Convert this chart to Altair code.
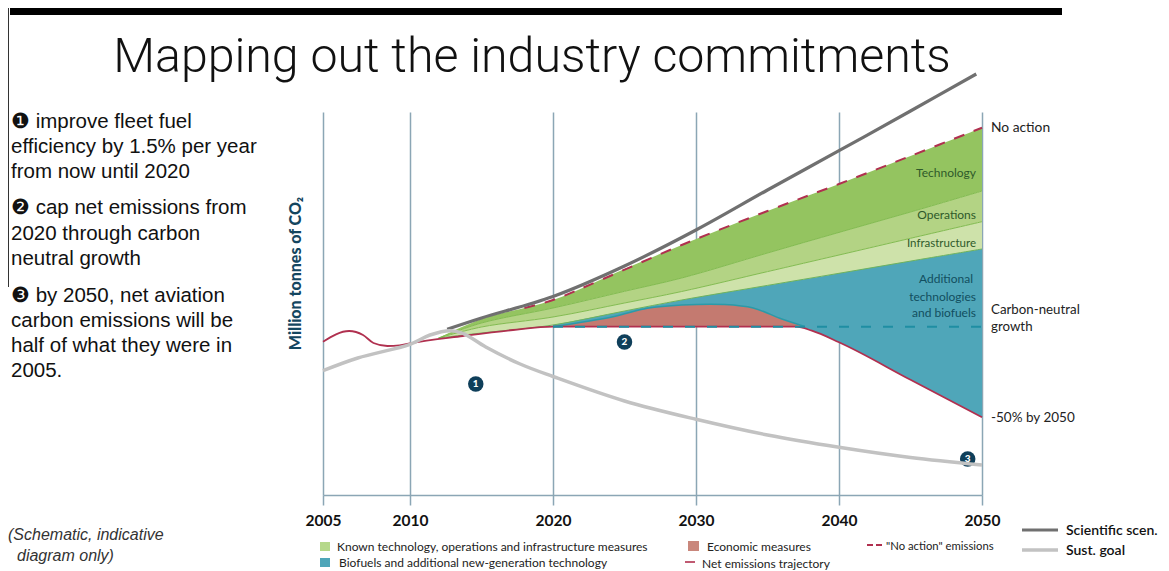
import altair as alt
import pandas as pd

# ---------- data (index units, schematic y axis) ----------
tick_years = [2005, 2010, 2020, 2030, 2040, 2050]

band_years = [2012, 2015, 2020, 2025, 2029, 2035, 2040, 2045, 2050]
no_action = [157, 176, 195, 226, 250, 284, 311, 339, 367.3]
tech_ops = [157, 172, 187, 203.7, 217, 242, 262.6, 283, 304]
ops_infra = [157, 168, 178, 192, 203.5, 223.4, 240, 256.7, 273.3]
infra_blue = [157, 162, 170, 184, 195, 209.6, 221.7, 233.9, 246]

blue_years = [2020, 2025, 2029, 2035, 2037, 2038.1, 2040, 2045, 2050]
blue_top = [170, 184, 195, 209.6, 214.5, 217, 221.7, 233.9, 246]
blue_bottom = [168.3, 168.3, 168.3, 168.3, 168.3, 164.3, 152.7, 115.2, 77.7]

econ_years = [2020, 2024.2, 2026.6, 2029, 2032, 2034, 2036, 2037.6]
econ_top = [168.3, 178.3, 186.7, 190, 190.5, 187, 176, 168.5]
econ_base = [168.3, 168.3, 168.3, 168.3, 168.3, 168.3, 168.3, 168.3]

net_years = [2005, 2006.5, 2007.3, 2007.9, 2008.7, 2009.4, 2010, 2013.7, 2017.2, 2020,
             2030, 2037, 2038.1, 2040, 2045, 2050]
net_values = [153.3, 164, 160, 152, 149, 149.7, 151.7, 159, 165, 168.3,
              168.3, 168.3, 164.3, 152.7, 115.2, 77.7]

neutral_years = [2020, 2050]
neutral_values = [168.3, 168.3]

action_years = [2018, 2020, 2023.5, 2029, 2035, 2040, 2045, 2050]
action_values = [187, 195, 216, 250, 284, 311, 339, 367.3]

sci_years = [2012.6, 2015, 2020, 2025, 2030, 2035, 2040, 2045, 2049.6]
sci_values = [165.7, 177, 198.5, 229, 265, 305, 344.3, 384, 421]

sust_years = [2005, 2007, 2010, 2011.4, 2012.8, 2013.7, 2015.3, 2017.7, 2020,
              2025, 2030, 2035, 2040, 2045, 2050]
sust_values = [124.3, 137, 150.7, 160, 164.3, 161.7, 148, 131, 118.5,
               94, 75.7, 60, 47.7, 37.5, 30]

marker_years = [2014.6, 2025, 2049]
marker_values = [111, 153, 36]
marker_labels = ["1", "2", "3"]

title_text = "Mapping out the industry commitments"
commitments = [
    "❶ improve fleet fuel", "efficiency by 1.5% per year", "from now until 2020",
    "❷ cap net emissions from", "2020 through carbon", "neutral growth",
    "❸ by 2050, net aviation", "carbon emissions will be", "half of what they were in", "2005.",
]
schematic = ["(Schematic, indicative", "diagram only)"]

# ---------- layout ----------
PX0, PY0 = 323, 112          # page position of the plot origin
W, H = 659, 383

GRID = "#8ba6b5"
NAVY = "#0f3f5a"
CRIMSON = "#b0304f"
TEAL = "#2b9aa8"
FONT = "Lato"
SANS = "Liberation Sans"

xs = alt.Scale(domain=[2005, 2010, 2050], range=[0, 87, W], nice=False, zero=False)
ys = alt.Scale(domain=[0, H], range=[H, 0], nice=False, zero=False)
X = alt.X("year:Q", scale=xs, title=None, axis=alt.Axis(
    values=tick_years, format="d", grid=True, gridColor=GRID, gridWidth=1.5,
    domainColor=GRID, domainWidth=1.5, tickColor=GRID, tickWidth=1.5, tickSize=10,
    labelFont=FONT, labelFontSize=15.5, labelFontWeight=700, labelColor="#111111",
    labelPadding=8, labelFlush=False, labelOverlap=False))
Y = alt.Y("v:Q", scale=ys, axis=alt.Axis(
    title="Million tonnes of CO₂", labels=False, ticks=False, domain=False, grid=False,
    titleFont=FONT, titleFontSize=16, titleFontWeight=900, titleColor="#14465f",
    titleX=-20, titleY=161))


def frame(years, values):
    return pd.DataFrame({"year": years, "v": values})


def band(years, top, bottom, color, interp="monotone"):
    d = pd.DataFrame({"year": years, "v": top, "b": bottom})
    return alt.Chart(d).mark_area(color=color, interpolate=interp, opacity=1).encode(
        x=X, y=Y, y2=alt.Y2("b:Q"))


def line(years, values, color, width, dash=None, interp="monotone"):
    kw = dict(color=color, strokeWidth=width, interpolate=interp)
    if dash:
        kw["strokeDash"] = dash
    return alt.Chart(frame(years, values)).mark_line(**kw).encode(x=X, y=Y)


def note(text, px, py, size=12, color="#222222", font=FONT, align="left", **kw):
    d = pd.DataFrame({"t": [text]})
    return alt.Chart(d).mark_text(fontSize=size, color=color, font=font, align=align,
                                  baseline="middle", **kw).encode(
        x=alt.value(px - PX0), y=alt.value(py - PY0), text="t:N")


def box(x0, x1, y0, y1, color):
    d = pd.DataFrame({"k": [0]})
    return alt.Chart(d).mark_rect(color=color).encode(
        x=alt.value(x0 - PX0), x2=alt.value(x1 - PX0),
        y=alt.value(y0 - PY0), y2=alt.value(y1 - PY0))


def stroke(x0, x1, y, color, width, dash=None):
    d = pd.DataFrame({"k": [0]})
    kw = dict(color=color, strokeWidth=width)
    if dash:
        kw["strokeDash"] = dash
    return alt.Chart(d).mark_rule(**kw).encode(
        x=alt.value(x0 - PX0), x2=alt.value(x1 - PX0), y=alt.value(y - PY0))


markers_d = pd.DataFrame({"year": marker_years, "v": marker_values, "t": marker_labels})
markers = alt.Chart(markers_d).mark_point(filled=True, color=NAVY, size=240, opacity=1).encode(x=X, y=Y)
marker_text = alt.Chart(markers_d).mark_text(color="white", font=FONT, fontSize=10, fontWeight=900,
                                             baseline="middle").encode(x=X, y=Y, text="t:N")

CR = "catmull-rom"
layers = [
    markers, marker_text,
    band(band_years, no_action, tech_ops, "#94c460", CR),
    band(band_years, tech_ops, ops_infra, "#b3d384", CR),
    band(band_years, ops_infra, infra_blue, "#cee2aa", CR),
    band(blue_years, blue_top, blue_bottom, "#4fa6b9"),
    band(econ_years, econ_top, econ_base, "#c47a70", CR),
    line(band_years, tech_ops, "#82bb50", 1, interp=CR),
    line(band_years, ops_infra, "#82bb50", 1, interp=CR),
    line(band_years, infra_blue, "#6fb35a", 1, interp=CR),
    line(econ_years, econ_top, TEAL, 1.5, interp=CR),
    line(net_years, net_values, CRIMSON, 1.8),
    line(neutral_years, neutral_values, "#1f8ea3", 2, dash=[10, 12], interp="linear"),
    line(action_years, action_values, CRIMSON, 2, dash=[11, 10], interp=CR),
    line(sci_years, sci_values, "#707070", 3.2, interp=CR),
    line(sust_years, sust_values, "#c2c2c2", 3.5, interp=CR),
]

# slide furniture
layers += [
    box(10, 1062, 8, 15, "#000000"),
    box(8, 9, 8, 287, "#333333"),
    note(title_text, 532, 58, size=48.3, color="#111111", font="Roboto", align="center", fontWeight=300),
]
ys_left = [122, 147, 172, 208, 234, 259, 296, 321, 346, 371]
layers += [note(t, 11, y, size=20.5, color="#111111", font=SANS) for t, y in zip(commitments, ys_left)]
layers += [
    note(schematic[0], 8, 535, size=16, color="#333333", font=SANS, fontStyle="italic"),
    note(schematic[1], 17, 556, size=16, color="#333333", font=SANS, fontStyle="italic"),
]

# end labels and in-area labels
layers += [
    note("No action", 991, 128, size=13.8),
    note("Carbon-neutral", 991, 310, size=13.3),
    note("growth", 991, 327, size=13.3),
    note("-50% by 2050", 991, 418, size=13.5),
    note("Technology", 976, 173, size=12, color="#2f5a2a", align="right"),
    note("Operations", 976, 215, size=12, color="#2f5a2a", align="right"),
    note("Infrastructure", 976, 244, size=11.5, color="#2f5a2a", align="right"),
    note("Additional", 973, 279, size=12, color="#124f60", align="right"),
    note("technologies", 976, 297, size=12, color="#124f60", align="right"),
    note("and biofuels", 976, 313, size=12, color="#124f60", align="right"),
]

# legend
layers += [
    box(320, 330, 542, 551, "#b5d88a"),
    note("Known technology, operations and infrastructure measures", 337, 547, size=12),
    box(320, 330, 558, 567, "#4fa6b9"),
    note("Biofuels and additional new-generation technology", 339, 563, size=12),
    box(688, 699, 541, 551, "#c9877c"),
    note("Economic measures", 707, 547, size=12),
    stroke(685, 695, 562, CRIMSON, 1.6),
    note("Net emissions trajectory", 702, 564, size=12),
    stroke(867, 883, 545, CRIMSON, 2, dash=[6, 3]),
    note('"No action" emissions', 886, 547, size=11.3),
    stroke(1022, 1058, 530, "#707070", 3.2),
    note("Scientific scen.", 1066, 531, size=14, color="#111111", fontWeight=600),
    stroke(1022, 1058, 550, "#c2c2c2", 3.5),
    note("Sust. goal", 1066, 551, size=14, color="#111111", fontWeight=600),
]

chart = alt.layer(*layers).properties(
    width=W, height=H,
    padding={"left": PX0 - 8, "top": PY0 - 8, "right": 1161 - (PX0 + W), "bottom": 571 - (PY0 + H)},
    autosize=alt.AutoSizeParams(type="none"),
    background="white",
).configure_view(stroke=None)

chart.save("out.html", embed_options={"renderer": "svg", "actions": False})
